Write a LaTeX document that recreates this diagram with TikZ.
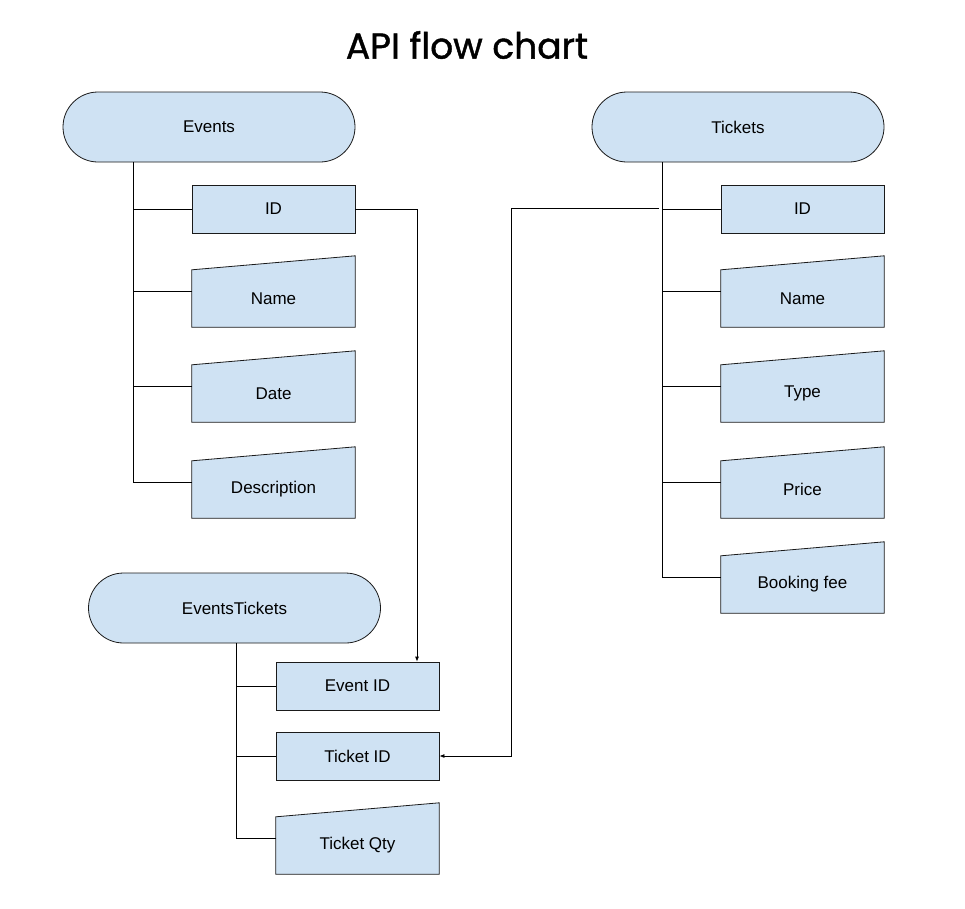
\documentclass[tikz,border=0pt]{standalone}
\usepackage{fontspec}
\setmainfont{Liberation Sans}
\newfontfamily\titlefont[FakeBold=1.2]{Poppins}
\usetikzlibrary{shapes.misc,arrows.meta,calc}
\definecolor{boxfill}{HTML}{CFE2F3}
\definecolor{boxline}{HTML}{1A1A1A}
\pgfdeclarelayer{background}
\pgfsetlayers{background,main}
\begin{document}
\begin{tikzpicture}[x=1pt,y=-1pt,
  lbl/.style={font=\fontsize{17}{20}\selectfont},
  entity/.style={lbl, rounded rectangle, draw=boxline, fill=boxfill, line width=0.8pt,
    minimum width=292pt, minimum height=70pt, inner sep=0pt},
  fieldbox/.style={lbl, rectangle, draw=boxline, fill=boxfill, line width=0.8pt,
    minimum width=163pt, minimum height=48pt, inner sep=0pt},
  slantbox/.style={lbl, rectangle, minimum width=163pt, minimum height=57pt, inner sep=0pt},
  slantshape/.style={draw=boxline, fill=boxfill, line width=0.8pt},
  link/.style={line width=0.8pt, draw=black},
  arr/.style={link, -{Latex[length=5pt,width=4pt]}}]
\useasboundingbox (0,0) rectangle (965,908);

\node[font=\titlefont\fontsize{36}{40}\selectfont] (title) at (467,45) {API flow chart};

% entities
\node[entity] (events) at (209,127) {Events};
\node[entity] (tickets) at (738,127) {Tickets};
\node[entity] (evtk) at (234.5,608) {EventsTickets};

% Events fields
\node[fieldbox] (eID) at (273.5,209) {ID};
\node[slantbox] (eName) at (273.5,298.5) {Name};
\node[slantbox] (eDate) at (273.5,393.5) {Date};
\node[slantbox] (eDesc) at (273.5,489.5) {Description};

% Tickets fields
\node[fieldbox] (tID) at (802.5,209) {ID};
\node[slantbox] (tName) at (802.5,298.5) {Name};
\node[slantbox] (tType) at (802.5,393.5) {Type};
\node[slantbox] (tPrice) at (802.5,489.5) {Price};
\node[slantbox] (tFee) at (802.5,584.5) {Booking fee};

% EventsTickets fields
\node[fieldbox] (etEvent) at (357.5,686) {Event ID};
\node[fieldbox] (etTicket) at (357.5,756) {Ticket ID};
\node[slantbox] (etQty) at (357.5,845.5) {Ticket Qty};

% slanted (manual input) shapes behind their text
\begin{pgfonlayer}{background}
\fill[white] (0,0) rectangle (965,908);
\foreach \n in {eName,eDate,eDesc,tName,tType,tPrice,tFee,etQty}{
  \path[slantshape]
    (\n.south west) -- (\n.south east) -- ($(\n.north east)+(0,-14)$) -- (\n.north west) -- cycle;
}
\end{pgfonlayer}

% branch points at mid-height of slanted boxes
\foreach \n in {eName,eDate,eDesc,tName,tType,tPrice,tFee,etQty}{
  \coordinate (b\n) at ($(\n.west)+(0,-7)$);
}

% Events tree
\coordinate (eTop) at (133,162);
\draw[link] (eTop) -- (eTop |- beDesc);
\draw[link] (eTop |- eID.west) -- (eID.west);
\foreach \n in {eName,eDate,eDesc}{
  \draw[link] (eTop |- b\n) -- (b\n);
}

% Tickets tree
\coordinate (tTop) at (662,162);
\draw[link] (tTop) -- (tTop |- btFee);
\draw[link] (tTop |- tID.west) -- (tID.west);
\foreach \n in {tName,tType,tPrice,tFee}{
  \draw[link] (tTop |- b\n) -- (b\n);
}

% EventsTickets tree
\coordinate (etTop) at (236,643);
\draw[link] (etTop) -- (etTop |- betQty);
\draw[link] (etTop |- etEvent.west) -- (etEvent.west);
\draw[link] (etTop |- etTicket.west) -- (etTicket.west);
\draw[link] (etTop |- betQty) -- (betQty);

% cross links
\coordinate (eDrop) at (417,209);
\draw[arr] (eID.east) -- (eDrop) -- (eDrop |- etEvent.north);
\coordinate (tStart) at (659,208);
\coordinate (tTurn) at (511,208);
\draw[arr] (tStart) -- (tTurn) |- (etTicket.east);
\end{tikzpicture}
\end{document}
